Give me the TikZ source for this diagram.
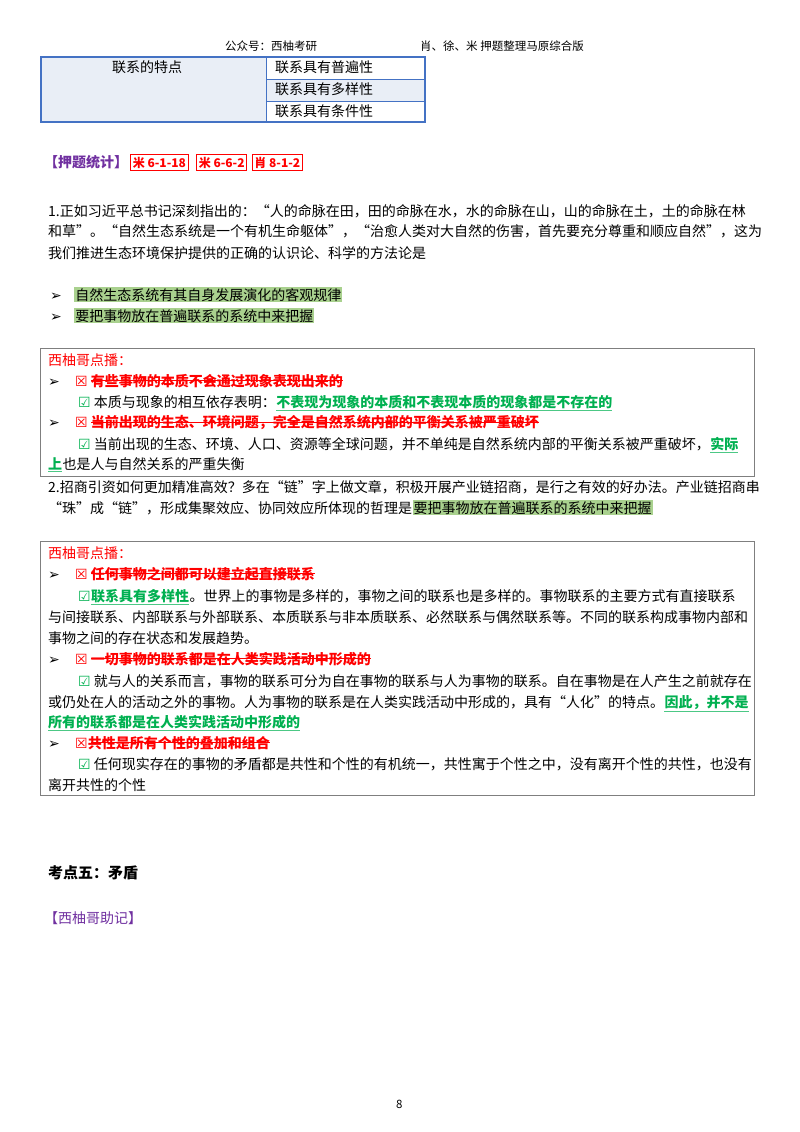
\documentclass[tikz,border=0pt]{standalone}
\usepackage{fontspec}
\setmainfont{Liberation Serif}
\newfontfamily\cjk{Noto Sans CJK SC}
\newfontfamily\sym{DejaVu Sans}
\usetikzlibrary{positioning}
\definecolor{tabfill}{HTML}{E9EEF6}
\definecolor{tabline}{HTML}{4472C4}
\definecolor{okgreen}{HTML}{00B050}
\definecolor{hlgreen}{HTML}{A9D18E}
\definecolor{tagpurple}{HTML}{7030A0}
\definecolor{boxgray}{HTML}{7F7F7F}
\newcommand{\ok}{{\sym\color{okgreen}\char"2611}}
\newcommand{\no}{{\sym\color{red}\char"2612}}
\newcommand{\pt}{{\sym\bfseries\char"27A2}}
\begin{document}
\begin{tikzpicture}[x=1pt,y=-1pt,
    txt/.style={anchor=base west, inner sep=0pt, font=\cjk\fontsize{14}{16}\selectfont},
    small/.style={txt, font=\cjk\fontsize{11.5}{13}\selectfont},
    wrong/.style={txt, text=red, font=\cjk\bfseries\fontsize{14}{16}\selectfont},
    right/.style={txt, text=okgreen, font=\cjk\bfseries\fontsize{14}{16}\selectfont},
    hl/.style={txt, fill=hlgreen, inner sep=1pt},
    tag/.style={anchor=base west, draw=red, thick, text=red, inner sep=2pt,
        font=\cjk\bfseries\fontsize{12}{14}\selectfont},
    note/.style={draw=boxgray, thick}
]
    \useasboundingbox (0,0) rectangle (800,1132);

    % header
    \node[small] (hdrL) at (225,51) {公众号：西柚考研};
    \node[small] (hdrR) at (420,51) {肖、徐、米 押题整理马原综合版};

    % table
    \fill[tabfill] (41,57) rectangle (425,122);
    \fill[white] (266,57) rectangle (425,79);
    \fill[white] (266,101) rectangle (425,122);
    \draw[tabline, very thick] (41,57) rectangle (425,122);
    \draw[tabline, thick] (266,57) -- (266,122) (266,79) -- (425,79) (266,101) -- (425,101);
    \node[txt] (feat) at (112,73) {联系的特点};
    \node[txt] (row1) at (275,73) {联系具有普遍性};
    \node[txt] (row2) at (275,95) {联系具有多样性};
    \node[txt] (row3) at (275,116) {联系具有条件性};

    % tags
    \node[txt, text=tagpurple, font=\cjk\bfseries\fontsize{14}{16}\selectfont] (stat) at (44,167) {【押题统计】};
    \node[tag, base right=2pt of stat] (tagA) {米 6-1-18};
    \node[tag, base right=8pt of tagA] (tagB) {米 6-6-2};
    \node[tag, base right=5pt of tagB] (tagC) {肖 8-1-2};

    % question 1
    \node[txt] (q1a) at (48,216) {1.正如习近平总书记深刻指出的：“人的命脉在田，田的命脉在水，水的命脉在山，山的命脉在土，土的命脉在林};
    \node[txt] (q1b) at (48,236) {和草”。“自然生态系统是一个有机生命躯体”，“治愈人类对大自然的伤害，首先要充分尊重和顺应自然”，这为};
    \node[txt] (q1c) at (48,258) {我们推进生态环境保护提供的正确的认识论、科学的方法论是};
    \node[txt] (b1) at (50,300) {\pt};
    \node[hl, base right=12pt of b1] (ans1) {自然生态系统有其自身发展演化的客观规律};
    \node[txt] (b2) at (50,321) {\pt};
    \node[hl, base right=12pt of b2] (ans2) {要把事物放在普遍联系的系统中来把握};

    % note box 1
    \draw[note] (40,348) rectangle (754,476);
    \node[txt, text=red] (n1t) at (48,365) {西柚哥点播：};
    \node[txt] (n1p1) at (48,386) {\pt};
    \node[wrong] (n1x1) at (75,386) {\no\ 有些事物的本质不会通过现象表现出来的};
    \node[txt] (n1c1) at (78,407) {\ok\ 本质与现象的相互依存表明：};
    \node[right, base right=0pt of n1c1] (n1g1) {不表现为现象的本质和不表现本质的现象都是不存在的};
    \node[txt] (n1p2) at (48,427) {\pt};
    \node[wrong] (n1x2) at (75,427) {\no\ 当前出现的生态、环境问题，完全是自然系统内部的平衡关系被严重破坏};
    \node[txt] (n1c2) at (78,449) {\ok\ 当前出现的生态、环境、人口、资源等全球问题，并不单纯是自然系统内部的平衡关系被严重破坏，};
    \node[right, base right=0pt of n1c2] (n1g2) {实际};
    \node[right] (n1g3) at (48,469) {上};
    \node[txt, base right=0pt of n1g3] (n1c3) {也是人与自然关系的严重失衡};

    % question 2
    \node[txt] (q2a) at (48,492) {2.招商引资如何更加精准高效？多在“链”字上做文章，积极开展产业链招商，是行之有效的好办法。产业链招商串};
    \node[txt] (q2b) at (48,513) {“珠”成“链”，形成集聚效应、协同效应所体现的哲理是};
    \node[hl, base right=0pt of q2b] (ans3) {要把事物放在普遍联系的系统中来把握};

    % note box 2
    \draw[note] (40,541) rectangle (754,795);
    \node[txt, text=red] (n2t) at (48,558) {西柚哥点播：};
    \node[txt] (n2p1) at (48,579) {\pt};
    \node[wrong] (n2x1) at (75,579) {\no\ 任何事物之间都可以建立起直接联系};
    \node[txt] (n2c1) at (78,601) {\ok\ };
    \node[right, base right=0pt of n2c1] (n2g1) {联系具有多样性};
    \node[txt, base right=0pt of n2g1] (n2k1) {。世界上的事物是多样的，事物之间的联系也是多样的。事物联系的主要方式有直接联系};
    \node[txt] (n2k2) at (48,622) {与间接联系、内部联系与外部联系、本质联系与非本质联系、必然联系与偶然联系等。不同的联系构成事物内部和};
    \node[txt] (n2k3) at (48,643) {事物之间的存在状态和发展趋势。};
    \node[txt] (n2p2) at (48,664) {\pt};
    \node[wrong] (n2x2) at (75,664) {\no\ 一切事物的联系都是在人类实践活动中形成的};
    \node[txt] (n2k4) at (78,686) {\ok\ 就与人的关系而言，事物的联系可分为自在事物的联系与人为事物的联系。自在事物是在人产生之前就存在};
    \node[txt] (n2k5) at (48,707) {或仍处在人的活动之外的事物。人为事物的联系是在人类实践活动中形成的，具有“人化”的特点。};
    \node[right, base right=0pt of n2k5] (n2g2) {因此，并不是};
    \node[right] (n2g3) at (48,727) {所有的联系都是在人类实践活动中形成的};
    \node[txt] (n2p3) at (48,748) {\pt};
    \node[wrong] (n2x3) at (75,748) {\no 共性是所有个性的叠加和组合};
    \node[txt] (n2k6) at (78,769) {\ok\ 任何现实存在的事物的矛盾都是共性和个性的有机统一，共性寓于个性之中，没有离开个性的共性，也没有};
    \node[txt] (n2k7) at (48,790) {离开共性的个性};

    % strike-outs and underlines
    \foreach \n in {n1x1,n1x2,n2x1,n2x2,n2x3}
        \draw[red, thick] ([xshift=16pt]\n.west) -- (\n.east);
    \foreach \n in {n1g1,n1g2,n1g3,n2g1,n2g2,n2g3}
        \draw[okgreen!70] ([yshift=-1.5pt]\n.south west) -- ([yshift=-1.5pt]\n.south east);

    % section
    \node[txt, font=\cjk\bfseries\fontsize{15}{18}\selectfont] (sec) at (48,878) {考点五：矛盾};
    \node[txt, text=tagpurple] (memo) at (44,923) {【西柚哥助记】};
    \node[small] (page) at (396,1108) {8};
\end{tikzpicture}
\end{document}
